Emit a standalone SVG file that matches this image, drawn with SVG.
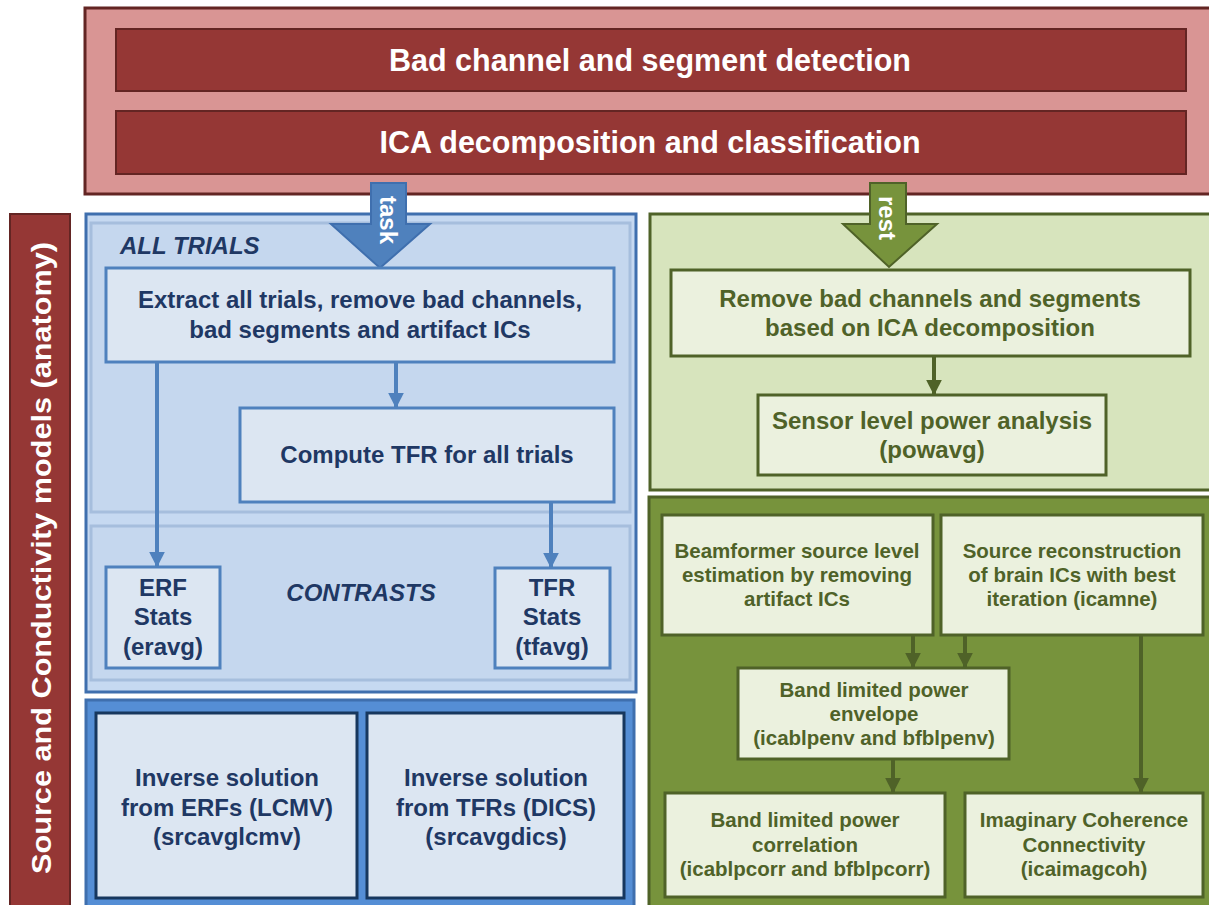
<svg xmlns="http://www.w3.org/2000/svg" width="1209" height="905" viewBox="0 0 1209 905">
<defs>
<style>
text{font-family:"Liberation Sans",Arial,sans-serif;font-weight:bold;text-anchor:middle}
.w{fill:#ffffff}
.bt{fill:#1f3864;font-size:24px}
.gt{fill:#4f6228;font-size:24px}
.gs{fill:#4f6228;font-size:20.5px}
.bbox{fill:#dce6f2;stroke:#4f81bd;stroke-width:3}
.gbox{fill:#ebf1de;stroke:#4f6228;stroke-width:3}
.bl{stroke:#4f81bd;stroke-width:4;fill:none}
.gl{stroke:#4f6228;stroke-width:4;fill:none}
</style>
<marker id="ab" viewBox="0 0 10 10" refX="9" refY="5" markerWidth="4" markerHeight="4.5" orient="auto" markerUnits="strokeWidth"><path d="M0,0L10,5L0,10z" fill="#4f81bd"/></marker>
<marker id="ag" viewBox="0 0 10 10" refX="9" refY="5" markerWidth="4" markerHeight="4.5" orient="auto" markerUnits="strokeWidth"><path d="M0,0L10,5L0,10z" fill="#4f6228"/></marker>
</defs>
<rect width="1209" height="905" fill="#ffffff"/>

<g id="preproc">
<rect x="85" y="8" width="1130" height="186" fill="#d99594" stroke="#632523" stroke-width="3"/>
</g>
<g id="badchan">
<rect x="116" y="29" width="1070" height="62" fill="#953735" stroke="#632523" stroke-width="2"/>
<text x="650" y="71" class="w" font-size="30.5">Bad channel and segment detection</text>
</g>
<g id="ica">
<rect x="116" y="111" width="1070" height="63" fill="#953735" stroke="#632523" stroke-width="2"/>
<text x="650" y="153" class="w" font-size="30.5">ICA decomposition and classification</text>
</g>

<g id="anatomy">
<rect x="10" y="214" width="60" height="700" fill="#953735" stroke="#632523" stroke-width="2"/>
<text transform="translate(51,558) rotate(-90)" class="w" font-size="27" textLength="632" lengthAdjust="spacingAndGlyphs">Source and Conductivity models (anatomy)</text>
</g>

<g id="task-panel">
<rect x="86" y="214" width="550" height="478" fill="#c6d9f1" stroke="#3f6fae" stroke-width="3"/>
<rect x="91" y="223" width="539" height="289" fill="#c5d7ee" stroke="#a6bedd" stroke-width="3"/>
<rect x="91" y="526" width="539" height="154" fill="#c5d7ee" stroke="#a6bedd" stroke-width="3"/>
<text x="120" y="254" class="bt" font-style="italic" style="text-anchor:start">ALL TRIALS</text>
<text x="361" y="601" class="bt" font-style="italic">CONTRASTS</text>
</g>

<g id="rest-panel">
<rect x="650" y="214" width="570" height="276" fill="#d7e4bd" stroke="#4f6228" stroke-width="3"/>
</g>
<g id="source-panel">
<rect x="649" y="497" width="570" height="420" fill="#77933c" stroke="#4f6228" stroke-width="3"/>
</g>

<g id="inverse-panel">
<rect x="86" y="700" width="548" height="220" fill="#558ed5" stroke="#3f6fae" stroke-width="3"/>
</g>

<g id="task-arrow">
<path d="M371,183H406V224H430L380,268L331,224H371Z" fill="#4f81bd" stroke="#3f6fae" stroke-width="2"/>
<text transform="translate(380,196) rotate(90)" class="w" font-size="24" style="text-anchor:start">task</text>
</g>
<g id="rest-arrow">
<path d="M870,183H906V224H937L889,267L843,224H870Z" fill="#77933c" stroke="#4f6228" stroke-width="2"/>
<text transform="translate(879,196) rotate(90)" class="w" font-size="24" style="text-anchor:start">rest</text>
</g>

<g id="extract">
<rect x="106" y="268" width="508" height="94" class="bbox"/>
<text x="360" y="308" class="bt">Extract all trials, remove bad channels,</text>
<text x="360" y="338" class="bt">bad segments and artifact ICs</text>
</g>
<g id="computetfr">
<rect x="240" y="408" width="374" height="94" class="bbox"/>
<text x="427" y="463" class="bt">Compute TFR for all trials</text>
</g>
<g id="erf">
<rect x="106" y="567" width="114" height="101" class="bbox"/>
<text x="163" y="596" class="bt">ERF</text>
<text x="163" y="625" class="bt">Stats</text>
<text x="163" y="655" class="bt">(eravg)</text>
</g>
<g id="tfrstats">
<rect x="495" y="568" width="115" height="100" class="bbox"/>
<text x="552" y="596" class="bt">TFR</text>
<text x="552" y="625" class="bt">Stats</text>
<text x="552" y="655" class="bt">(tfavg)</text>
</g>

<g id="lcmv">
<rect x="96" y="713" width="261" height="185" fill="#dce6f2" stroke="#17375e" stroke-width="3"/>
<text x="227" y="786" class="bt">Inverse solution</text>
<text x="227" y="816" class="bt">from ERFs (LCMV)</text>
<text x="227" y="845" class="bt">(srcavglcmv)</text>
</g>
<g id="dics">
<rect x="367" y="713" width="257" height="185" fill="#dce6f2" stroke="#17375e" stroke-width="3"/>
<text x="496" y="786" class="bt">Inverse solution</text>
<text x="496" y="816" class="bt">from TFRs (DICS)</text>
<text x="496" y="845" class="bt">(srcavgdics)</text>
</g>

<g id="removebad">
<rect x="671" y="270" width="519" height="86" class="gbox"/>
<text x="930" y="307" class="gt">Remove bad channels and segments</text>
<text x="930" y="336" class="gt">based on ICA decomposition</text>
</g>
<g id="sensor">
<rect x="758" y="395" width="348" height="80" class="gbox"/>
<text x="932" y="429" class="gt">Sensor level power analysis</text>
<text x="932" y="458" class="gt">(powavg)</text>
</g>

<g id="beamformer">
<rect x="662" y="515" width="271" height="120" class="gbox"/>
<text x="797" y="558" class="gs">Beamformer source level</text>
<text x="797" y="582" class="gs">estimation by removing</text>
<text x="797" y="606" class="gs">artifact ICs</text>
</g>
<g id="icamne">
<rect x="941" y="515" width="262" height="120" class="gbox"/>
<text x="1072" y="558" class="gs">Source reconstruction</text>
<text x="1072" y="582" class="gs">of brain ICs with best</text>
<text x="1072" y="606" class="gs">iteration (icamne)</text>
</g>
<g id="blpenv">
<rect x="738" y="668" width="271" height="91" class="gbox"/>
<text x="874" y="697" class="gs">Band limited power</text>
<text x="874" y="721" class="gs">envelope</text>
<text x="874" y="745" class="gs">(icablpenv and bfblpenv)</text>
</g>
<g id="blpcorr">
<rect x="665" y="793" width="280" height="104" class="gbox"/>
<text x="805" y="827" class="gs">Band limited power</text>
<text x="805" y="852" class="gs">correlation</text>
<text x="805" y="876" class="gs">(icablpcorr and bfblpcorr)</text>
</g>
<g id="imagcoh">
<rect x="965" y="793" width="238" height="104" class="gbox"/>
<text x="1084" y="827" class="gs">Imaginary Coherence</text>
<text x="1084" y="852" class="gs">Connectivity</text>
<text x="1084" y="876" class="gs">(icaimagcoh)</text>
</g>

<g id="connectors">
<line x1="157" y1="362" x2="157" y2="566" class="bl" marker-end="url(#ab)"/>
<line x1="396" y1="362" x2="396" y2="407" class="bl" marker-end="url(#ab)"/>
<line x1="551" y1="502" x2="551" y2="567" class="bl" marker-end="url(#ab)"/>
<line x1="934" y1="356" x2="934" y2="394" class="gl" marker-end="url(#ag)"/>
<line x1="913" y1="635" x2="913" y2="667" class="gl" marker-end="url(#ag)"/>
<line x1="965" y1="635" x2="965" y2="667" class="gl" marker-end="url(#ag)"/>
<line x1="893" y1="759" x2="893" y2="792" class="gl" marker-end="url(#ag)"/>
<line x1="1141" y1="635" x2="1141" y2="792" class="gl" marker-end="url(#ag)"/>
</g>
</svg>
